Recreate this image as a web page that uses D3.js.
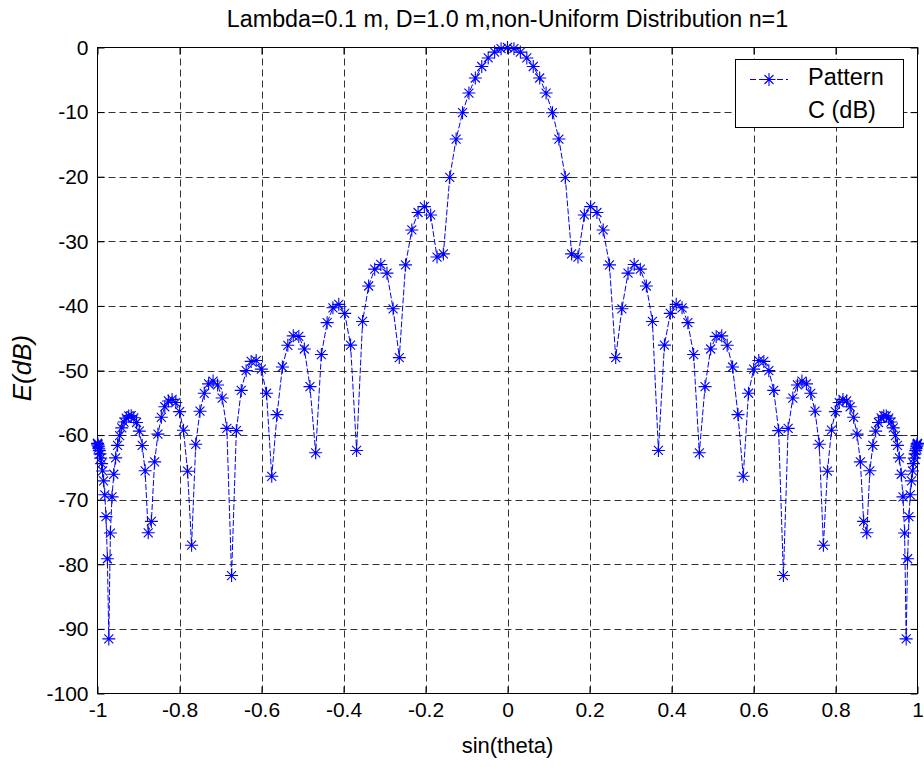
<!DOCTYPE html>
<html>
<head>
<meta charset="utf-8">
<script src="https://cdn.jsdelivr.net/npm/d3@7/dist/d3.min.js"></script>
<style>
  body { margin: 0; background: #fff; }
  svg { display: block; }
  text { font-family: "Liberation Sans", Arial, Helvetica, sans-serif; fill: #000; }
</style>
</head>
<body>
<svg id="chart"></svg>
<script>
const titleText = "Lambda=0.1 m, D=1.0 m,non-Uniform Distribution n=1";
const xLabelText = "sin(theta)";
const yLabelText = "E(dB)";
const legendLabel = ["Pattern", "C (dB)"];

const xTicks = [-1, -0.8, -0.6, -0.4, -0.2, 0, 0.2, 0.4, 0.6, 0.8, 1];
const yTicks = [0, -10, -20, -30, -40, -50, -60, -70, -80, -90, -100];

// sample positions (sin theta)
const sinTheta = [
  -1.0000, -0.9999, -0.9995, -0.9989, -0.9980, -0.9969, -0.9956, -0.9940, -0.9921, -0.9900,
  -0.9877, -0.9851, -0.9823, -0.9792, -0.9759, -0.9724, -0.9686, -0.9646, -0.9603, -0.9558,
  -0.9511, -0.9461, -0.9409, -0.9354, -0.9298, -0.9239, -0.9178, -0.9114, -0.9048, -0.8980,
  -0.8910, -0.8838, -0.8763, -0.8686, -0.8607, -0.8526, -0.8443, -0.8358, -0.8271, -0.8181,
  -0.8090, -0.7997, -0.7902, -0.7804, -0.7705, -0.7604, -0.7501, -0.7396, -0.7290, -0.7181,
  -0.7071, -0.6959, -0.6845, -0.6730, -0.6613, -0.6494, -0.6374, -0.6252, -0.6129, -0.6004,
  -0.5878, -0.5750, -0.5621, -0.5490, -0.5358, -0.5225, -0.5090, -0.4955, -0.4818, -0.4679,
  -0.4540, -0.4399, -0.4258, -0.4115, -0.3971, -0.3827, -0.3681, -0.3535, -0.3387, -0.3239,
  -0.3090, -0.2940, -0.2790, -0.2639, -0.2487, -0.2334, -0.2181, -0.2028, -0.1874, -0.1719,
  -0.1564, -0.1409, -0.1253, -0.1097, -0.0941, -0.0785, -0.0628, -0.0471, -0.0314, -0.0157,
  0,
  0.0157, 0.0314, 0.0471, 0.0628, 0.0785, 0.0941, 0.1097, 0.1253, 0.1409, 0.1564,
  0.1719, 0.1874, 0.2028, 0.2181, 0.2334, 0.2487, 0.2639, 0.2790, 0.2940, 0.3090,
  0.3239, 0.3387, 0.3535, 0.3681, 0.3827, 0.3971, 0.4115, 0.4258, 0.4399, 0.4540,
  0.4679, 0.4818, 0.4955, 0.5090, 0.5225, 0.5358, 0.5490, 0.5621, 0.5750, 0.5878,
  0.6004, 0.6129, 0.6252, 0.6374, 0.6494, 0.6613, 0.6730, 0.6845, 0.6959, 0.7071,
  0.7181, 0.7290, 0.7396, 0.7501, 0.7604, 0.7705, 0.7804, 0.7902, 0.7997, 0.8090,
  0.8181, 0.8271, 0.8358, 0.8443, 0.8526, 0.8607, 0.8686, 0.8763, 0.8838, 0.8910,
  0.8980, 0.9048, 0.9114, 0.9178, 0.9239, 0.9298, 0.9354, 0.9409, 0.9461, 0.9511,
  0.9558, 0.9603, 0.9646, 0.9686, 0.9724, 0.9759, 0.9792, 0.9823, 0.9851, 0.9877,
  0.9900, 0.9921, 0.9940, 0.9956, 0.9969, 0.9980, 0.9989, 0.9995, 0.9999, 1.0000
];

// pattern level in dB at each sample
const patternDb = [
  -61.27, -61.30, -61.38, -61.53, -61.73, -62.03, -62.41, -62.91, -63.57, -64.42,
  -65.55, -67.08, -69.24, -72.62, -79.14, -91.55, -75.16, -69.57, -66.06, -63.53,
  -61.59, -60.07, -58.88, -57.98, -57.37, -57.03, -57.00, -57.32, -58.05, -59.38,
  -61.60, -65.53, -75.12, -73.35, -64.14, -59.85, -57.24, -55.61, -54.71, -54.47,
  -54.96, -56.37, -59.24, -65.59, -77.04, -61.42, -56.30, -53.53, -52.07, -51.63,
  -52.24, -54.26, -58.96, -81.74, -59.31, -53.08, -50.02, -48.59, -48.46, -49.79,
  -53.52, -66.38, -56.83, -49.46, -46.10, -44.64, -44.72, -46.67, -52.49, -62.74,
  -47.53, -42.59, -40.29, -39.76, -41.15, -46.07, -62.38, -42.41, -36.92, -34.31,
  -33.58, -34.93, -40.45, -48.00, -33.65, -28.24, -25.54, -24.64, -25.92, -32.44,
  -31.95, -20.12, -14.17, -10.09, -7.05, -4.72, -2.94, -1.62, -0.71, -0.18,
  0,
  -0.18, -0.71, -1.62, -2.94, -4.72, -7.05, -10.09, -14.17, -20.12, -31.95,
  -32.44, -25.92, -24.64, -25.54, -28.24, -33.65, -48.00, -40.45, -34.93, -33.58,
  -34.31, -36.92, -42.41, -62.38, -46.07, -41.15, -39.76, -40.29, -42.59, -47.53,
  -62.74, -52.49, -46.67, -44.72, -44.64, -46.10, -49.46, -56.83, -66.38, -53.52,
  -49.79, -48.46, -48.59, -50.02, -53.08, -59.31, -81.74, -58.96, -54.26, -52.24,
  -51.63, -52.07, -53.53, -56.30, -61.42, -77.04, -65.59, -59.24, -56.37, -54.96,
  -54.47, -54.71, -55.61, -57.24, -59.85, -64.14, -73.35, -75.12, -65.53, -61.60,
  -59.38, -58.05, -57.32, -57.00, -57.03, -57.37, -57.98, -58.88, -60.07, -61.59,
  -63.53, -66.06, -69.57, -75.16, -91.55, -79.14, -72.62, -69.24, -67.08, -65.55,
  -64.42, -63.57, -62.91, -62.41, -62.03, -61.73, -61.53, -61.38, -61.30, -61.27
];

const width = 924, height = 767;
const plot = { left: 97.5, right: 917.5, top: 47.5, bottom: 693.5 };
const tickFont = 21;
const titleFont = 23.3;
const legendFont = 23.5;
const blue = "#0000ff";

const svg = d3.select("#chart")
    .attr("width", width)
    .attr("height", height);

const x = d3.scaleLinear().domain([-1, 1]).range([plot.left, plot.right]);
const y = d3.scaleLinear().domain([-100, 0]).range([plot.bottom, plot.top]);

// grid
const grid = svg.append("g").attr("class", "grid")
    .attr("stroke", "#333")
    .attr("stroke-width", 1)
    .attr("stroke-dasharray", "7,4");

grid.selectAll(".vgrid")
    .data(xTicks.slice(1, -1))
    .enter().append("line")
    .attr("x1", d => Math.round(x(d)) + 0.5)
    .attr("x2", d => Math.round(x(d)) + 0.5)
    .attr("y1", plot.top)
    .attr("y2", plot.bottom);

grid.selectAll(".hgrid")
    .data(yTicks.slice(1, -1))
    .enter().append("line")
    .attr("x1", plot.left)
    .attr("x2", plot.right)
    .attr("y1", d => Math.round(y(d)) + 0.5)
    .attr("y2", d => Math.round(y(d)) + 0.5);

// axes, ticks pointing inward on all four sides
const fmt = d => String(d);

const xAxis = svg.append("g")
    .attr("transform", `translate(0,${plot.bottom})`)
    .call(d3.axisBottom(x).tickValues(xTicks).tickSize(-7).tickPadding(9).tickFormat(fmt));

const xAxisTop = svg.append("g")
    .attr("transform", `translate(0,${plot.top})`)
    .call(d3.axisTop(x).tickValues(xTicks).tickSize(-7).tickFormat(""));

const yAxis = svg.append("g")
    .attr("transform", `translate(${plot.left},0)`)
    .call(d3.axisLeft(y).tickValues(yTicks).tickSize(-7).tickPadding(9).tickFormat(fmt));

const yAxisRight = svg.append("g")
    .attr("transform", `translate(${plot.right},0)`)
    .call(d3.axisRight(y).tickValues(yTicks).tickSize(-7).tickFormat(""));

[xAxis, xAxisTop, yAxis, yAxisRight].forEach(g => {
    g.select(".domain").remove();
    g.selectAll(".tick line").attr("stroke", "#000");
    g.selectAll("text")
        .attr("font-family", "'Liberation Sans', Arial, sans-serif")
        .attr("font-size", tickFont)
        .attr("fill", "#000");
});

// box
svg.append("rect")
    .attr("x", plot.left)
    .attr("y", plot.top)
    .attr("width", plot.right - plot.left)
    .attr("height", plot.bottom - plot.top)
    .attr("fill", "none")
    .attr("stroke", "#000")
    .attr("stroke-width", 1);

// pattern line and asterisk markers
const points = sinTheta.map((s, i) => [s, patternDb[i]]);

const line = d3.line()
    .x(d => x(d[0]))
    .y(d => y(d[1]));

svg.append("path")
    .datum(points)
    .attr("d", line)
    .attr("fill", "none")
    .attr("stroke", blue)
    .attr("stroke-width", 1)
    .attr("stroke-dasharray", "6,2");

const star = "M-6.5,0H6.5M0,-6.5V6.5M-4.5,-4.5L4.5,4.5M-4.5,4.5L4.5,-4.5";

svg.append("g")
    .selectAll("path")
    .data(points)
    .enter().append("path")
    .attr("transform", d => `translate(${x(d[0])},${y(d[1])})`)
    .attr("d", star)
    .attr("fill", "none")
    .attr("stroke", blue)
    .attr("stroke-width", 1.1);

// title and labels
svg.append("text")
    .attr("x", (plot.left + plot.right) / 2)
    .attr("y", 27)
    .attr("text-anchor", "middle")
    .attr("font-size", titleFont)
    .text(titleText);

svg.append("text")
    .attr("x", (plot.left + plot.right) / 2)
    .attr("y", 753)
    .attr("text-anchor", "middle")
    .attr("font-size", 22)
    .text(xLabelText);

svg.append("text")
    .attr("transform", "translate(31,368) rotate(-90)")
    .attr("text-anchor", "middle")
    .attr("font-family", "'Liberation Serif', 'Times New Roman', serif")
    .attr("font-style", "italic")
    .attr("font-size", 26)
    .text(yLabelText);

// legend
const legend = svg.append("g").attr("class", "legend");

legend.append("rect")
    .attr("x", 735.5)
    .attr("y", 59.5)
    .attr("width", 168)
    .attr("height", 68)
    .attr("fill", "#fff")
    .attr("stroke", "#000")
    .attr("stroke-width", 1);

legend.append("line")
    .attr("x1", 750).attr("x2", 788)
    .attr("y1", 79.5).attr("y2", 79.5)
    .attr("stroke", blue)
    .attr("stroke-width", 1)
    .attr("stroke-dasharray", "6,3");

legend.append("path")
    .attr("transform", "translate(769,79.5)")
    .attr("d", star)
    .attr("fill", "none")
    .attr("stroke", blue)
    .attr("stroke-width", 1.1);

legend.selectAll(".legend-text")
    .data(legendLabel)
    .enter().append("text")
    .attr("class", "legend-text")
    .attr("x", 808)
    .attr("y", (d, i) => 85 + i * 32.5)
    .attr("font-size", legendFont)
    .text(d => d);
</script>
</body>
</html>
